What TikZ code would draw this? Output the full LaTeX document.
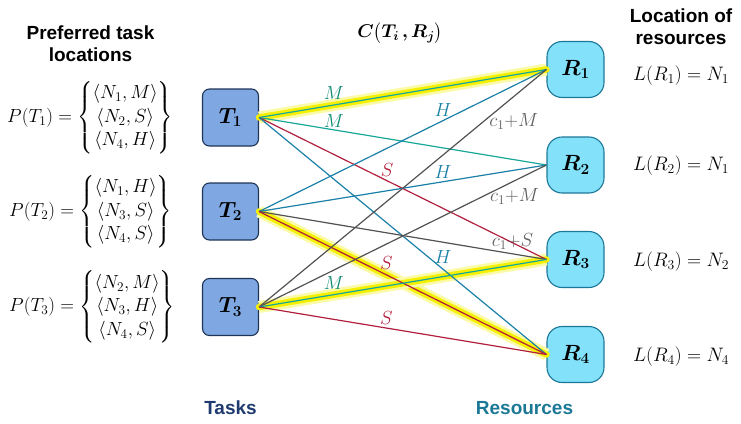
\RequirePackage{fix-cm}
\documentclass[tikz,border=0pt]{standalone}
\usepackage{amsmath}
\usepackage{bm}
\usepackage{fontspec}
\newfontfamily\headfont{Liberation Sans}

\definecolor{taskfill}{HTML}{7FA7E2}
\definecolor{taskline}{HTML}{1E3557}
\definecolor{resfill}{HTML}{84E1FA}
\definecolor{resline}{HTML}{1C7898}
\definecolor{mgreen}{HTML}{17A89A}
\definecolor{mlabel}{HTML}{0F8A72}
\definecolor{hblue}{HTML}{1A80A8}
\definecolor{sred}{HTML}{B21E3D}
\definecolor{cgray}{HTML}{525252}
\definecolor{clabel}{HTML}{5E5E5E}
\definecolor{glowyellow}{HTML}{F5F000}
\definecolor{tasktext}{HTML}{1F3A6E}
\definecolor{restext}{HTML}{1B7896}

\begin{document}
\begin{tikzpicture}[x=1pt,y=-1pt,
  task/.style={draw=taskline, fill=taskfill, line width=1.1pt, rounded corners=7pt,
    minimum width=56pt, minimum height=57pt, inner sep=0pt, font=\fontsize{22}{24}\selectfont},
  res/.style={draw=resline, fill=resfill, line width=1.1pt, rounded corners=15pt,
    minimum width=57pt, minimum height=56pt, inner sep=0pt, font=\fontsize{22}{24}\selectfont},
  link/.style={line width=1.2pt},
  glow/.style={line cap=round, draw=glowyellow, line width=6.5pt,
    preaction={draw=glowyellow!35, line width=12pt}},
  lbl/.style={font=\fontsize{19}{21}\selectfont, inner sep=0pt},
  eq/.style={font=\fontsize{19}{23.5}\selectfont, inner sep=0pt, anchor=west},
  loc/.style={font=\fontsize{19.5}{22}\selectfont, inner sep=0pt, anchor=west},
  head/.style={font=\headfont\bfseries\fontsize{19}{22}\selectfont, align=center, inner sep=0pt},
]
\useasboundingbox (0,0) rectangle (741,423);

% headings
\node[head] (hpref) at (90.5,44) {Preferred task\\locations};
\node[head] (hloc) at (681,26.5) {Location of\\resources};
\node[font=\fontsize{18.5}{22}\selectfont, inner sep=0pt] (hcost) at (400,33) {$\bm{C\big(T_i\,,R_j\big)}$};

% task and resource boxes
\node[task] (T1) at (230.5,117.5) {$\bm{T_1}$};
\node[task] (T2) at (230.5,211.5) {$\bm{T_2}$};
\node[task] (T3) at (230.5,307) {$\bm{T_3}$};
\node[res] (R1) at (575.5,69.5) {$\bm{R_1}$};
\node[res] (R2) at (575.5,165) {$\bm{R_2}$};
\node[res] (R3) at (575.5,259.5) {$\bm{R_3}$};
\node[res] (R4) at (575.5,354.5) {$\bm{R_4}$};

% highlighted assignment
\draw[glow] (T1.east) -- (R1.west);
\draw[glow] (T2.east) -- (R4.west);
\draw[glow] (T3.east) -- (R3.west);

% costs from T1
\draw[link, mgreen] (T1.east) -- node[lbl, text=mlabel, pos=0.26, yshift=12.5pt] {$M$} (R1.west);
\draw[link, mgreen] (T1.east) -- node[lbl, text=mlabel, pos=0.26, yshift=8.5pt] {$M$} (R2.west);
\draw[link, sred] (T1.east) -- node[lbl, text=sred, pos=0.446, yshift=10.5pt] {$S$} (R3.west);
\draw[link, hblue] (T1.east) -- node[lbl, text=hblue, pos=0.64, yshift=12pt] {$H$} (R4.west);

% costs from T2
\draw[link, hblue] (T2.east) -- node[lbl, text=hblue, pos=0.64, yshift=10.5pt] {$H$} (R1.west);
\draw[link, hblue] (T2.east) -- node[lbl, text=hblue, pos=0.64, yshift=9.5pt] {$H$} (R2.west);
\draw[link, cgray] (T2.east) -- node[lbl, text=clabel, pos=0.882, yshift=12pt] {$c_1{+}S$} (R3.west);
\draw[link, sred] (T2.east) -- node[lbl, text=sred, pos=0.443, yshift=11.5pt] {$S$} (R4.west);

% costs from T3
\draw[link, cgray] (T3.east) -- node[lbl, text=clabel, pos=0.886, yshift=-25pt] {$c_1{+}M$} (R1.west);
\draw[link, cgray] (T3.east) -- node[lbl, text=clabel, pos=0.889, yshift=-16pt] {$c_1{+}M$} (R2.west);
\draw[link, mgreen] (T3.east) -- node[lbl, text=mlabel, pos=0.26, yshift=11.5pt] {$M$} (R3.west);
\draw[link, sred] (T3.east) -- node[lbl, text=sred, pos=0.443, yshift=10.5pt] {$S$} (R4.west);

% preferred locations of the tasks
\node[eq] (P1) at (7,117.5) {$P(T_1)=\left\{\begin{matrix}\langle N_1,M\rangle\\ \langle N_2,S\rangle\\ \langle N_4,H\rangle\end{matrix}\right\}$};
\node[eq] (P2) at (9,211.5) {$P(T_2)=\left\{\begin{matrix}\langle N_1,H\rangle\\ \langle N_3,S\rangle\\ \langle N_4,S\rangle\end{matrix}\right\}$};
\node[eq] (P3) at (9,307) {$P(T_3)=\left\{\begin{matrix}\langle N_2,M\rangle\\ \langle N_3,H\rangle\\ \langle N_4,S\rangle\end{matrix}\right\}$};

% locations of the resources
\node[loc] (L1) at (633,76) {$L(R_1)=N_1$};
\node[loc] (L2) at (633,166) {$L(R_2)=N_1$};
\node[loc] (L3) at (633,262) {$L(R_3)=N_2$};
\node[loc] (L4) at (633,357) {$L(R_4)=N_4$};

% column captions
\node[head, text=tasktext] (ctasks) at (230.5,408) {Tasks};
\node[head, text=restext] (cres) at (524.5,408) {Resources};
\end{tikzpicture}
\end{document}
